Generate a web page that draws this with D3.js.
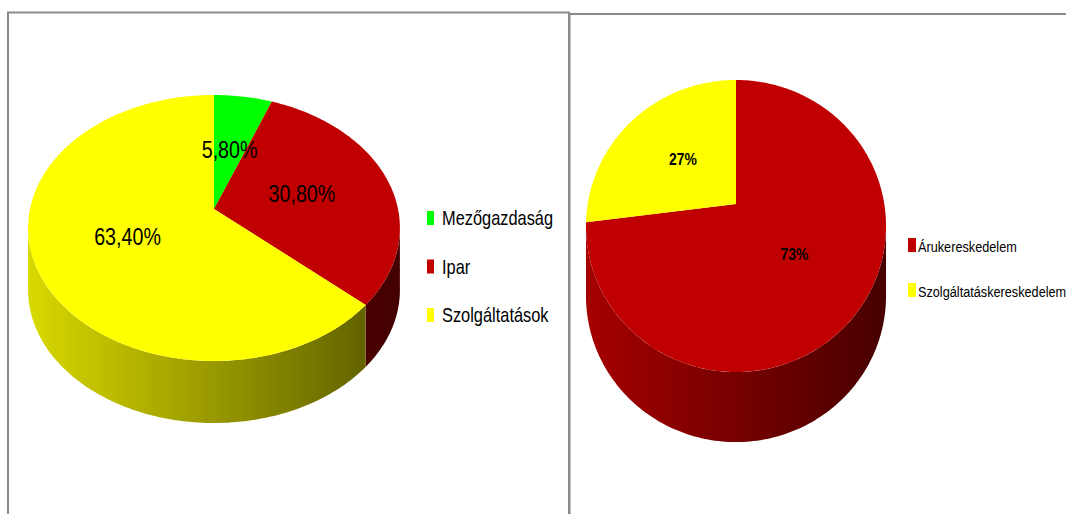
<!DOCTYPE html>
<html>
<head>
<meta charset="utf-8">
<script src="https://cdn.jsdelivr.net/npm/d3@7"></script>
<style>
body{margin:0;background:#fff;overflow:hidden}
svg{display:block;font-family:"Liberation Sans",Arial,sans-serif}
</style>
</head>
<body>
<script>
// bal diagram: ágazatok
var sectors = ['Mezőgazdaság', 'Ipar', 'Szolgáltatások']
var sectorValues = [5.8, 30.8, 63.4]
var sectorLabels = ['5,80%', '30,80%', '63,40%']
// jobb diagram: kereskedelem
var trade = ['Árukereskedelem', 'Szolgáltatáskereskedelem']
var tradeValues = [73, 27]
var tradeLabels = ['73%', '27%']

var colorOf = {
  'Mezőgazdaság':'#00ff00', 'Ipar':'#c00000', 'Szolgáltatások':'#ffff00'
, 'Árukereskedelem':'#c00000', 'Szolgáltatáskereskedelem':'#ffff00'}

var W = 1066, H = 514
var NARROW = 0.82   // keskeny betű utánzása
var svg = d3.select('body').append('svg').attr('width', W).attr('height', H)
var defs = svg.append('defs')

// keretek
svg.append('path').attr('d', 'M8,514V12.5H569V514')
  .attr('fill', 'none').attr('stroke', '#8a8a8a').attr('stroke-width', 2)
svg.append('path').attr('d', 'M569.5,514V14H1070')
  .attr('fill', 'none').attr('stroke', '#8a8a8a').attr('stroke-width', 2)

function narrowText(sel, x, y, s) {
  return sel.append('text')
    .attr('transform', 'translate(' + x + ',' + y + ') scale(' + NARROW + ',1)')
    .text(s)
}

function pie3d(o) {
  var g = svg.append('g')
  var pie = d3.pie().sort(null).value(function(d){ return d.v })
  var arcs = pie(o.names.map(function(n, i){ return {n:n, v:o.values[i], lab:o.labels[i]} }))

  // perspektivikus vetítés: theta az óramutató szerint 12 órától
  function proj(t, f, dz) {
    var x = f * Math.sin(t), z = f * Math.cos(t)
    var den = 1 + o.a * z
    return [o.cx + o.S * x / den, o.cy - o.T * z / den + (dz || 0)]
  }
  var line = d3.line()
  function samples(t0, t1, f, dz) {
    var n = Math.max(2, Math.ceil((t1 - t0) / 0.02)), pts = []
    for (var i = 0; i <= n; i++) pts.push(proj(t0 + (t1 - t0) * i / n, f, dz))
    return pts
  }

  var xmin = o.cx - o.S * 1.02, xmax = o.cx + o.S * 1.02
  var tR = Math.acos(-o.a), tL = 2 * Math.PI - tR

  // oldalfalak
  arcs.forEach(function(d, i) {
    var t0 = Math.max(d.startAngle, tR), t1 = Math.min(d.endAngle, tL)
    if (t1 <= t0) return
    var base = d3.rgb(colorOf[d.data.n])
    var id = o.id + '-side-' + i
    var gr = defs.append('linearGradient').attr('id', id)
      .attr('gradientUnits', 'userSpaceOnUse')
      .attr('x1', xmin).attr('x2', xmax).attr('y1', 0).attr('y2', 0)
    gr.append('stop').attr('offset', '0%').attr('stop-color', base.darker(o.light))
    gr.append('stop').attr('offset', '100%').attr('stop-color', base.darker(o.dark))
    var top = samples(t0, t1, 1, 0)
    var bot = samples(t0, t1, 1, o.h).reverse()
    g.append('path').attr('d', line(top.concat(bot)) + 'Z')
      .attr('fill', 'url(#' + id + ')')
  })

  // fedőlap
  arcs.forEach(function(d) {
    var pts = [proj(0, 0)].concat(samples(d.startAngle, d.endAngle, 1, 0))
    g.append('path').attr('d', line(pts) + 'Z').attr('fill', colorOf[d.data.n])
  })

  // feliratok
  arcs.forEach(function(d) {
    var p = proj((d.startAngle + d.endAngle) / 2, 0.5)
    narrowText(g, p[0], p[1], d.data.lab).attr('dy', '0.36em')
      .attr('text-anchor', 'middle').attr('font-size', o.fs)
      .attr('font-weight', o.fw).attr('fill', '#000')
  })

  // jelmagyarázat
  var lg = svg.append('g').attr('transform', 'translate(' + o.lx + ',' + o.ly + ')')
  o.names.forEach(function(n, i) {
    var row = lg.append('g').attr('transform', 'translate(0,' + (i * o.lstep) + ')')
    row.append('rect').attr('x', 0).attr('y', -o.mh).attr('width', o.mw).attr('height', o.mh)
      .attr('fill', colorOf[n])
    narrowText(row, o.mw + o.gap, 0, n).attr('font-size', o.lfs).attr('fill', '#000')
  })
}

pie3d({id:'a', names:sectors, values:sectorValues, labels:sectorLabels,
  cx:214, cy:209, S:184, T:130.3, a:0.1428, h:62, fs:24, fw:'normal',
  light:0.45, dark:3, lx:427, ly:225, lstep:48.5, mw:7, mh:14, gap:8, lfs:20})

pie3d({id:'b', names:trade, values:tradeValues, labels:tradeLabels,
  cx:736, cy:204, S:148.3, T:142.7, a:0.1509, h:70, fs:17, fw:'bold',
  light:0.4, dark:2.8, lx:908, ly:252, lstep:45, mw:8, mh:14, gap:2, lfs:15.5})
</script>
</body>
</html>
